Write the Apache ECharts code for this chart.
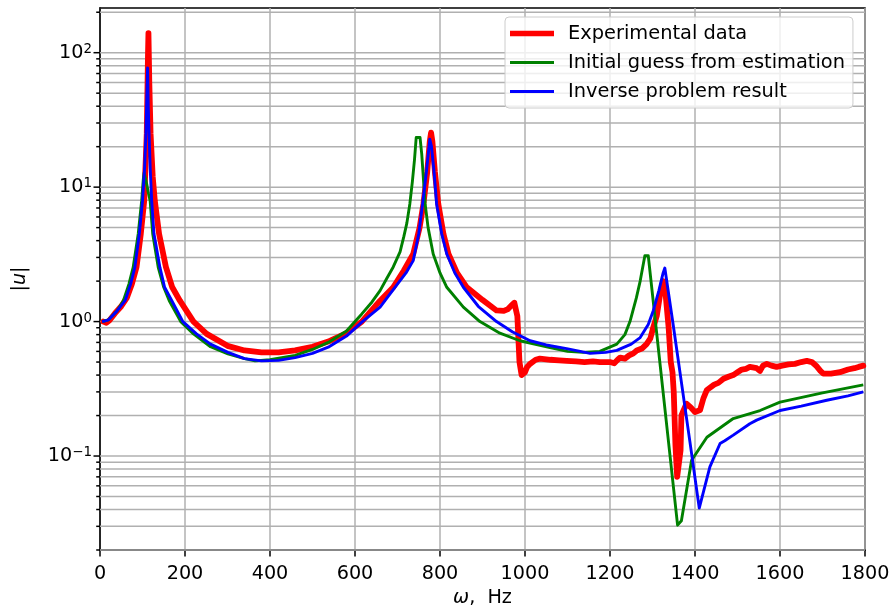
<!DOCTYPE html>
<html><head><meta charset="utf-8">
<script src="https://cdn.jsdelivr.net/npm/echarts@6/dist/echarts.min.js"></script>
<style>html,body{margin:0;padding:0;background:#fff}#c{width:890px;height:609px}</style>
</head><body><div id="c"></div>
<script>
// ---- data (frequency in Hz, |u|) ----
const seriesNames = ['Experimental data', 'Initial guess from estimation', 'Inverse problem result'];
const experimental = [
 [8,1.0],[15,0.98],[22,1.02],[35,1.15],[50,1.3],[63,1.5],[75,1.9],[86,2.55],[96,4.5],[104,7.9],[110,25],[113,100],[114,140],[116,60],[119,25],[124,12],[129,7.9],[139,4.5],[155,2.55],[170,1.8],[188,1.43],[220,1.0],[251,0.81],[300,0.66],[340,0.61],[380,0.59],[420,0.59],[459,0.61],[500,0.65],[537,0.71],[580,0.82],[616,1.0],[659,1.43],[690,1.8],[715,2.4],[737,3.18],[752,5],[761,7.5],[770,13],[776,22],[779,25.4],[782,22],[788,13],[796,7.5],[808,4.5],[820,3.18],[840,2.3],[863,1.8],[900,1.45],[933,1.21],[950,1.2],[960,1.24],[968,1.32],[975,1.38],[982,1.1],[987,0.5],[992,0.40],[1000,0.42],[1005,0.46],[1012,0.485],[1025,0.52],[1035,0.53],[1060,0.52],[1080,0.515],[1098,0.51],[1120,0.505],[1140,0.50],[1160,0.505],[1176,0.50],[1200,0.50],[1210,0.49],[1218,0.52],[1224,0.54],[1235,0.53],[1245,0.56],[1255,0.58],[1263,0.61],[1275,0.63],[1286,0.68],[1295,0.75],[1302,0.91],[1310,1.1],[1318,1.6],[1325,2.0],[1330,1.7],[1338,0.9],[1343,0.5],[1347,0.42],[1350,0.3],[1354,0.12],[1358,0.07],[1362,0.072],[1366,0.11],[1368,0.2],[1372,0.215],[1380,0.245],[1390,0.23],[1400,0.212],[1412,0.22],[1420,0.27],[1428,0.31],[1445,0.34],[1455,0.35],[1467,0.376],[1480,0.39],[1490,0.40],[1500,0.42],[1510,0.44],[1520,0.445],[1529,0.46],[1545,0.45],[1553,0.43],[1560,0.47],[1569,0.485],[1580,0.47],[1592,0.46],[1605,0.47],[1620,0.48],[1635,0.485],[1650,0.50],[1663,0.51],[1675,0.50],[1685,0.47],[1695,0.43],[1702,0.41],[1720,0.41],[1741,0.42],[1760,0.44],[1775,0.45],[1785,0.46],[1796,0.47]
];
const initialGuess = [
 [5,1.0],[20,1.03],[40,1.2],[55,1.43],[68,1.9],[78,2.53],[90,4.5],[98,7.9],[102,11.5],[104,12.8],[107,12.5],[110,10.5],[114,9],[118,7.9],[124,4.5],[137,2.53],[150,1.8],[163,1.43],[190,1.0],[220,0.81],[260,0.65],[301,0.575],[340,0.53],[365,0.51],[400,0.52],[459,0.56],[500,0.62],[537,0.70],[580,0.85],[616,1.14],[640,1.4],[659,1.7],[675,2.1],[690,2.55],[706,3.3],[715,4.3],[722,5.4],[729,7.5],[735,11],[740,16],[744,23.4],[753,23.4],[757,17.7],[765,7.5],[772,5],[784,3.18],[800,2.3],[816,1.8],[855,1.28],[894,1.0],[941,0.82],[988,0.72],[1059,0.64],[1100,0.6],[1137,0.59],[1176,0.60],[1216,0.68],[1235,0.8],[1247,1.0],[1262,1.5],[1271,2.0],[1282,3.09],[1290,3.09],[1359,0.0306],[1368,0.033],[1392,0.093],[1428,0.138],[1490,0.19],[1553,0.218],[1600,0.252],[1700,0.295],[1796,0.338]
];
const inverseResult = [
 [5,1.0],[20,1.03],[40,1.2],[59,1.43],[72,1.9],[82,2.53],[92.5,4.5],[100,7.9],[105,14],[108,24.8],[110,45],[112,77],[113.5,40],[115.5,24.8],[118,14],[121.6,7.9],[127,4.5],[141,2.53],[152,1.8],[169,1.43],[195,1.0],[227,0.81],[260,0.68],[301,0.59],[340,0.53],[380,0.51],[420,0.515],[459,0.54],[500,0.58],[537,0.645],[580,0.78],[616,0.99],[659,1.28],[694,1.8],[720,2.3],[737,2.84],[750,4.5],[759,7.5],[768,13],[776,22.7],[780,20],[786,13],[792,7.5],[804,4.5],[816,3.18],[835,2.3],[855,1.8],[890,1.3],[933,1.0],[970,0.84],[1012,0.72],[1050,0.67],[1098,0.63],[1153,0.58],[1190,0.59],[1216,0.61],[1250,0.68],[1271,0.76],[1290,0.95],[1302,1.21],[1315,1.7],[1325,2.3],[1329,2.5],[1349,0.93],[1388,0.128],[1410,0.041],[1435,0.083],[1459,0.124],[1470,0.13],[1490,0.143],[1529,0.174],[1545,0.185],[1600,0.218],[1650,0.235],[1710,0.26],[1760,0.28],[1796,0.30]
];
const xMin = 0, xMax = 1800, xStep = 200;
const yMin = 0.02, yMax = 215;
const yMajorTicks = [0.1, 1, 10, 100];
const yMinorTicks = [];
[0.01, 0.1, 1, 10, 100].forEach(d => { for (let k = 2; k <= 9; k++) { const v = d * k; if (v >= yMin && v <= yMax) yMinorTicks.push(+v.toPrecision(6)); } });

// ---- chart ----
const FONT = 'DejaVu Sans';
const FS = 19.2;
const gridColor = '#b0b0b0';
const chart = echarts.init(document.getElementById('c'), null, { renderer: 'canvas' });

const yTickData = yMajorTicks.map(v => [0, v, 1]).concat(yMinorTicks.map(v => [0, v, 0]));

const option = {
  animation: false,
  grid: { left: 100, right: 25, top: 8, bottom: 59, containLabel: false, outerBoundsMode: 'none', show: true, borderColor: '#000', borderWidth: 1.5, backgroundColor: 'transparent' },
  legend: {
    data: [
      { name: seriesNames[0], icon: 'path://M0,0h88v11h-88z' },
      { name: seriesNames[1], icon: 'path://M0,0h150v10h-150z' },
      { name: seriesNames[2], icon: 'path://M0,0h150v10h-150z' }
    ],
    orient: 'vertical', left: 505, top: 17,
    padding: [7, 8, 7, 5], itemGap: 10, itemWidth: 44, itemHeight: 10,
    backgroundColor: 'rgba(255,255,255,0.8)', borderColor: '#cccccc', borderWidth: 1, borderRadius: 4,
    textStyle: { fontFamily: FONT, fontSize: 19.4, color: '#000', lineHeight: 19, padding: [0, 0, 0, 9] }
  },
  xAxis: {
    type: 'value', min: xMin, max: xMax, interval: xStep,
    axisLine: { show: true, onZero: false, lineStyle: { color: '#000', width: 1.5 } },
    axisTick: { show: true, length: 6.5, lineStyle: { color: '#000', width: 1.5 } },
    axisLabel: { fontFamily: FONT, fontSize: FS, color: '#000', margin: 15, formatter: v => String(v) },
    splitLine: { show: true, lineStyle: { color: gridColor, width: 1.5 } },
    name: '{i|ω},  Hz', nameLocation: 'middle', nameGap: 39,
    nameTextStyle: { fontFamily: FONT, fontSize: FS, color: '#000', rich: { i: { fontFamily: FONT, fontSize: FS, fontStyle: 'italic', color: '#000' } } }
  },
  yAxis: {
    type: 'log', logBase: 10, min: yMin, max: yMax,
    axisLine: { show: true, onZero: false, lineStyle: { color: '#000', width: 1.5 } },
    axisTick: { show: false },
    splitLine: { show: false },
    axisLabel: {
      margin: 8, color: '#000',
      formatter: v => {
        const e = Math.log10(v), r = Math.round(e);
        if (Math.abs(e - r) > 1e-6) return '';
        return '{b|10}{s|' + (r < 0 ? '\u2212' + (-r) : r) + '}';
      },
      rich: {
        b: { fontFamily: FONT, fontSize: FS, color: '#000', lineHeight: 20 },
        s: { fontFamily: FONT, fontSize: 13.4, color: '#000', lineHeight: 13, verticalAlign: 'top' }
      }
    },
    name: '|{i|u}|', nameLocation: 'middle', nameGap: 70, nameRotate: 90,
    nameTextStyle: { fontFamily: FONT, fontSize: FS, color: '#000', rich: { i: { fontFamily: FONT, fontSize: FS, fontStyle: 'italic', color: '#000' } } }
  },
  series: [
    {
      type: 'custom', name: 'yticks', silent: true, z: 1, clip: false,
      data: yTickData,
      renderItem: (params, api) => {
        const v = api.value(1), major = api.value(2) === 1;
        const p = api.coord([0, v]);
        const cs = params.coordSys;
        return {
          type: 'group', children: [
            { type: 'line', shape: { x1: cs.x, y1: p[1], x2: cs.x + cs.width, y2: p[1] }, style: { stroke: gridColor, lineWidth: 1.5 } },
            { type: 'line', shape: { x1: cs.x - (major ? 6.5 : 3.8), y1: p[1], x2: cs.x, y2: p[1] }, style: { stroke: '#000', lineWidth: 1.5 } }
          ]
        };
      }
    },
    { name: seriesNames[0], type: 'line', data: experimental, symbol: 'none', showSymbol: false, z: 3, color: '#ff0000', lineStyle: { color: '#ff0000', width: 5.8, join: 'round', cap: 'round' } },
    { name: seriesNames[1], type: 'line', data: initialGuess, symbol: 'none', showSymbol: false, z: 4, color: '#008000', lineStyle: { color: '#008000', width: 2.9, join: 'round' } },
    { name: seriesNames[2], type: 'line', data: inverseResult, symbol: 'none', showSymbol: false, z: 5, color: '#0000ff', lineStyle: { color: '#0000ff', width: 2.9, join: 'round' } }
  ]
};
chart.setOption(option);
</script>
</body></html>
